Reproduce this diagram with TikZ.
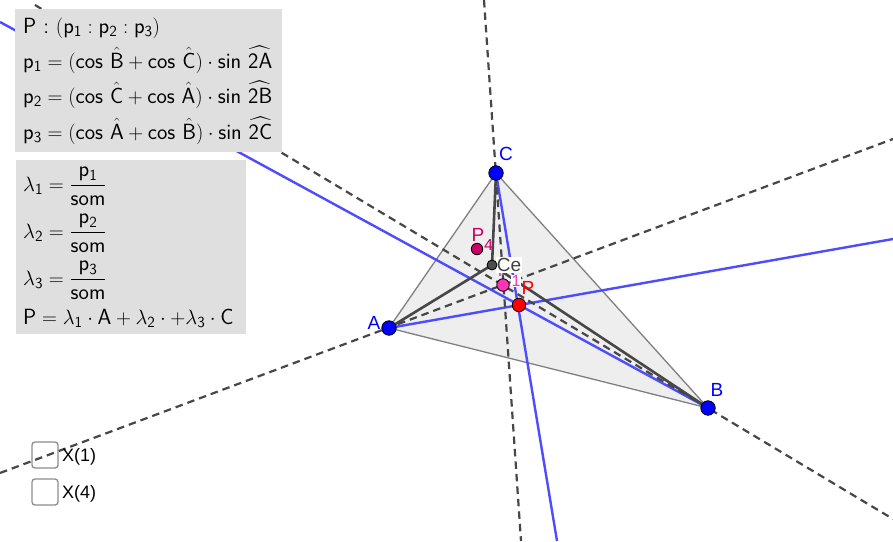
\documentclass[tikz,border=0pt]{standalone}
\usepackage{amsmath}
\usepackage{fontspec}
\newfontfamily\lab{Liberation Sans}
\definecolor{bluel}{RGB}{77,77,255}
\definecolor{pinkp}{RGB}{255,51,181}
\definecolor{crim}{RGB}{204,0,102}
\definecolor{grayp}{RGB}{223,223,223}
\tikzset{
  dashln/.style={draw=black!72,line width=2.2pt,dash pattern=on 7.5pt off 5pt},
  blueln/.style={draw=bluel,line width=2.4pt},
  cevian/.style={draw=black!72,line width=2.6pt},
  edge/.style={draw=black!50,line width=1.3pt},
  pt/.style={circle,draw=black,line width=.8pt,inner sep=0pt,minimum size=#1},
  vlabel/.style={font=\lab\fontsize{19}{19}\selectfont,inner sep=0pt},
  sublabel/.style={font=\lab\fontsize{16}{16}\selectfont,inner sep=0pt},
  ftxt/.style={font=\sffamily\fontsize{22}{22}\selectfont,inner sep=0pt,anchor=base west},
  cbox/.style={draw=black!45,line width=1.3pt,rounded corners=3pt,inner sep=0pt,minimum width=26pt,minimum height=26pt},
  cblabel/.style={font=\lab\fontsize{18}{18}\selectfont,inner sep=0pt,anchor=west}
}
\newcommand{\sv}[1]{\mathsf{#1}}
\begin{document}
\begin{tikzpicture}[x=1pt,y=-1pt]
\useasboundingbox (0,0) rectangle (893,541);
\fill[white] (0,0) rectangle (893,541);
% free ends
\coordinate (dA) at (0,473); \coordinate (dA2) at (893,139);
\coordinate (dB) at (35,5);  \coordinate (dB2) at (893,519);
\coordinate (dC) at (484,0); \coordinate (dC2) at (521,541);
\coordinate (bA) at (893,239); \coordinate (bB) at (0,22); \coordinate (bC) at (557,541);
% triangle
\coordinate (A) at (389,328); \coordinate (B) at (708,408); \coordinate (C) at (496,173);
\coordinate (Ce0) at (492,265);
\fill[black!50,opacity=.13] (A)--(B)--(C)--cycle;
\draw[edge] (A)--(B)--(C)--cycle;
% blue rays
\draw[blueln] (A)--(bA);
\draw[blueln] (B)--(bB);
\draw[blueln] (C)--(bC);
% dashed
\draw[dashln] (dA)--(dA2);
\draw[dashln] (dB)--(dB2);
\draw[dashln] (dC)--(dC2);
% cevians
\draw[cevian] (A)--(Ce0);
\draw[cevian] (B)--(Ce0);
\draw[cevian] (C)--(Ce0);
% labels behind
\node[vlabel,text=pinkp] (lP1) at (504,270) {P};
\node[sublabel,text=pinkp,fill=white,inner sep=.5pt] (l1) at (516,281) {1};
\node[vlabel,text=black!75,fill=white,inner sep=1pt] (lCe) at (509,265) {Ce};
% points
\node[pt=14.5pt,fill=blue] (nA) at (A) {};
\node[pt=14.5pt,fill=blue] (nB) at (B) {};
\node[pt=14.5pt,fill=blue] (nC) at (C) {};
\node[pt=10pt,fill=black!70] (nCe) at (Ce0) {};
\node[pt=12.5pt,fill=pinkp] (nP1) at (503,285) {};
\node[pt=11.5pt,fill=crim] (nP4) at (477,249) {};
\node[pt=13.5pt,fill=red] (nP) at (519,305) {};
% labels
\node[vlabel,text=blue] (lA) at (374,323) {A};
\node[vlabel,text=blue] (lB) at (717,390) {B};
\node[vlabel,text=blue] (lC) at (506,154) {C};
\node[vlabel,text=red] (lP) at (528,288) {P};
\node[vlabel,text=crim] (lP4) at (478,235) {P};
\node[sublabel,text=crim] (l4) at (488.5,245) {4};
% panel 1
\fill[grayp] (15,9) rectangle (282,152);
\node[ftxt] (f1) at (23,33) {P : $(\sv{p}_{\sv{1}}:\sv{p}_{\sv{2}}:\sv{p}_{\sv{3}})$};
\node[ftxt] (f2) at (23,68) {$\sv{p}_{\sv{1}}=(\sv{cos}\ \hat{\sv{B}}+\sv{cos}\ \hat{\sv{C}})\cdot\sv{sin}\ \widehat{\sv{2A}}$};
\node[ftxt] (f3) at (23,103) {$\sv{p}_{\sv{2}}=(\sv{cos}\ \hat{\sv{C}}+\sv{cos}\ \hat{\sv{A}})\cdot\sv{sin}\ \widehat{\sv{2B}}$};
\node[ftxt] (f4) at (23,139) {$\sv{p}_{\sv{3}}=(\sv{cos}\ \hat{\sv{A}}+\sv{cos}\ \hat{\sv{B}})\cdot\sv{sin}\ \widehat{\sv{2C}}$};
% panel 2
\fill[grayp] (16,160) rectangle (246,334);
\node[ftxt] (g1) at (23,191) {$\lambda_{\sv{1}}=\dfrac{\sv{p}_{\sv{1}}}{\sv{som}}$};
\node[ftxt] (g2) at (23,238) {$\lambda_{\sv{2}}=\dfrac{\sv{p}_{\sv{2}}}{\sv{som}}$};
\node[ftxt] (g3) at (23,285) {$\lambda_{\sv{3}}=\dfrac{\sv{p}_{\sv{3}}}{\sv{som}}$};
\node[ftxt] (g4) at (23,324) {$\sv{P}=\lambda_{\sv{1}}\cdot\sv{A}+\lambda_{\sv{2}}\cdot{+}\lambda_{\sv{3}}\cdot\sv{C}$};
% checkboxes
\node[cbox] (c1) at (45,455) {};
\node[cbox] (c2) at (45,492) {};
\node[cblabel] (t1) at (62,457) {X(1)};
\node[cblabel] (t2) at (62,494) {X(4)};
\end{tikzpicture}
\end{document}
